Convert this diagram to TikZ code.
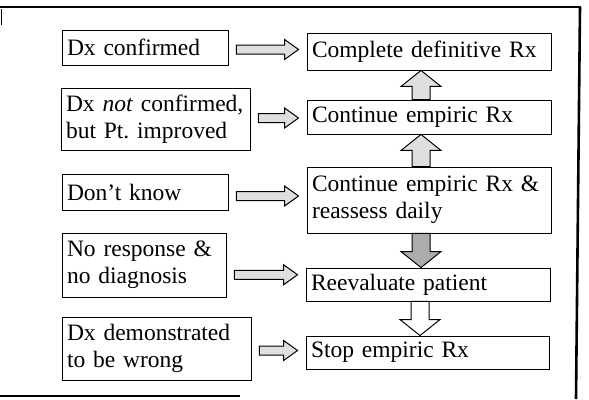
\documentclass[tikz,border=0pt]{standalone}
\usepackage{fontspec}
\setmainfont{Liberation Serif}
\usetikzlibrary{calc}
\frenchspacing
\tikzset{
  box/.style={draw=black, line width=0.9pt, inner xsep=5pt, inner ysep=0pt,
    align=left, anchor=center, font=\fontsize{23.5}{27}\selectfont},
  lightarrow/.style={draw=black, line width=1pt, fill=gray!25},
  darkarrow/.style={draw=black, line width=1pt, fill=gray!65},
  whitearrow/.style={draw=black, line width=1pt, fill=white},
  frame/.style={draw=black, line width=2.6pt}
}
% horizontal fat arrow between east side of #2 and west side of #3
\newcommand\harr[3]{%
  \path[#1] let \p1=(#2.east), \p2=(#3.west), \n1={0.5*(\y1+\y2)} in
    (\x1+8pt,\n1+4.5pt) -- (\x2-22pt,\n1+4.5pt) -- (\x2-22pt,\n1+10pt) --
    (\x2-8pt,\n1) -- (\x2-22pt,\n1-10pt) -- (\x2-22pt,\n1-4.5pt) --
    (\x1+8pt,\n1-4.5pt) -- cycle;}
% vertical fat arrow from anchor #2 to anchor #3, #4 = head offset
\newcommand\varr[4]{%
  \path[#1] let \p1=(#2), \p2=(#3) in
    (\x1-17pt,\y1) -- (\x1-17pt,\y2+#4) -- (\x1-28pt,\y2+#4) --
    (\x1-8pt,\y2) -- (\x1+12pt,\y2+#4) -- (\x1+1pt,\y2+#4) --
    (\x1+1pt,\y1) -- cycle;}
\begin{document}
\begin{tikzpicture}[x=1pt,y=-1pt]
\useasboundingbox (0,0) rectangle (589,399);
% outer frame (partial, as scanned)
\draw[frame] (0,7) -- (581,7);
\draw[frame] (580,7) -- (576,399);
\draw[frame] (0,396) -- (240,396);
\draw[line width=1pt] (1,9) -- (1,25);
% left boxes
\node[box, minimum width=166pt, minimum height=35pt, text width=156pt] (L1) at (145,47.5) {Dx confirmed};
\node[box, minimum width=189pt, minimum height=62pt, text width=179pt] (L2) at (155.5,119) {Dx \textit{not} confirmed,\\but Pt. improved};
\node[box, minimum width=166pt, minimum height=36pt, text width=156pt] (L3) at (145,192) {Don't know};
\node[box, minimum width=164pt, minimum height=64pt, text width=154pt] (L4) at (144,265) {No response \&\\no diagnosis};
\node[box, minimum width=189pt, minimum height=63pt, text width=179pt] (L5) at (156.5,348.5) {Dx demonstrated\\to be wrong};
% right boxes
\node[box, minimum width=244pt, minimum height=37pt, text width=234pt] (R1) at (429,51.5) {Complete definitive Rx};
\node[box, minimum width=244pt, minimum height=34pt, text width=234pt] (R2) at (429,117) {Continue empiric Rx};
\node[box, minimum width=244pt, minimum height=66pt, text width=234pt] (R3) at (429,200) {Continue empiric Rx \&\\reassess daily};
\node[box, minimum width=244pt, minimum height=33pt, text width=234pt] (R4) at (428,284.5) {Reevaluate patient};
\node[box, minimum width=243pt, minimum height=33pt, text width=233pt] (R5) at (427.5,352.5) {Stop empiric Rx};
% horizontal arrows
\harr{lightarrow}{L1}{R1}
\harr{lightarrow}{L2}{R2}
\harr{lightarrow}{L3}{R3}
\harr{lightarrow}{L4}{R4}
\harr{lightarrow}{L5}{R5}
% vertical arrows
\varr{lightarrow}{R2.north}{R1.south}{-16pt}
\varr{lightarrow}{R3.north}{R2.south}{-16pt}
\varr{darkarrow}{R3.south}{R4.north}{16pt}
\varr{whitearrow}{R4.south}{R5.north}{16pt}
\end{tikzpicture}
\end{document}
